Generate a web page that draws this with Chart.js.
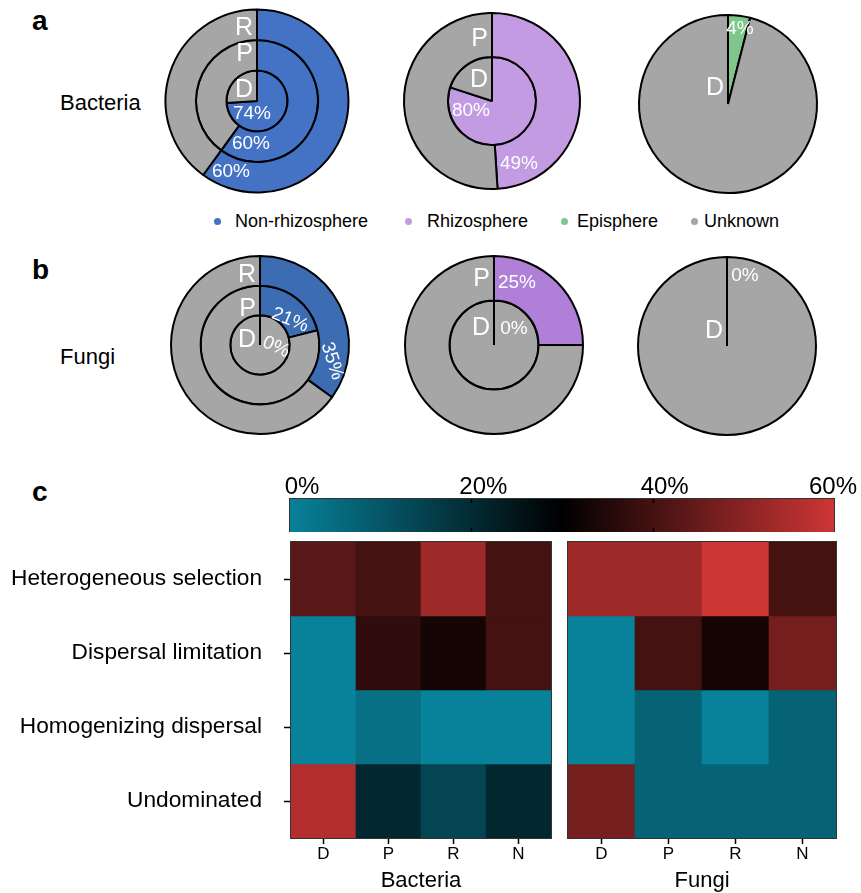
<!DOCTYPE html>
<html>
<head>
<meta charset="utf-8">
<script src="https://cdn.jsdelivr.net/npm/chart.js@4.4.1/dist/chart.umd.min.js"></script>
<style>
body { margin: 0; background: #fff; font-family: "Liberation Sans", Arial, Helvetica, sans-serif; }
#page { position: relative; width: 861px; height: 893px; overflow: hidden; }
canvas, .t, .dot { position: absolute; }
.t { white-space: nowrap; color: #000; line-height: 1; }
.tag { font-weight: bold; font-size: 28px; }
.row { font-size: 22px; }
.leg { font-size: 18px; }
.dot { width: 7px; height: 7px; border-radius: 50%; }
</style>
</head>
<body>
<div id="page">
  <div class="t tag" style="left:32px;top:7px">a</div>
  <div class="t tag" style="left:32px;top:256px">b</div>
  <div class="t tag" style="left:32px;top:478px">c</div>
  <div class="t row" style="left:60px;top:92px">Bacteria</div>
  <div class="t row" style="left:60px;top:346px">Fungi</div>
  <div id="legend"></div>

  <canvas id="pie1" width="200" height="200"></canvas>
  <canvas id="pie2" width="200" height="200"></canvas>
  <canvas id="pie3" width="200" height="200"></canvas>
  <canvas id="pie4" width="200" height="200"></canvas>
  <canvas id="pie5" width="200" height="200"></canvas>
  <canvas id="pie6" width="200" height="200"></canvas>

  <canvas id="cbar" width="591" height="62" style="left:270px;top:470px"></canvas>
  <canvas id="heatB" width="560" height="363" style="left:0px;top:530px"></canvas>
  <canvas id="heatF" width="301" height="363" style="left:560px;top:530px"></canvas>
</div>
<script>
// ---- data ----
const ringNames = ['D', 'P', 'R'];
const sources = ['Non-rhizosphere', 'Rhizosphere', 'Episphere', 'Unknown'];

// share (%) of each compartment's community traced to the source, rest is Unknown
const bacNonRhizo = [74, 60, 60];   // D, P, R
const bacRhizo = [80, 49];          // D, P
const bacEpi = [4];                 // D
const funNonRhizo = [0, 21, 35];
const funRhizo = [0, 25];
const funEpi = [0];

const heatRows = ['Heterogeneous selection', 'Dispersal limitation', 'Homogenizing dispersal', 'Undominated'];
const heatCols = ['D', 'P', 'R', 'N'];
const bacHeat = [
  [43, 40, 53, 40],
  [0, 37, 33, 40],
  [0, 4, 0, 0],
  [56, 21, 14, 21]
];
const funHeat = [
  [53, 53, 60, 40],
  [0, 40, 33, 47],
  [0, 7, 0, 7],
  [47, 7, 7, 7]
];
const barTicks = [0, 20, 40, 60];

// ---- styles ----
const FONT = '"Liberation Sans", Arial, Helvetica, sans-serif';
const GREY = '#a6a6a6';
const legendColors = ['#4472c4', '#c39be3', '#80c68c', GREY];
const cmapStops = [[0, [8, 129, 154]], [30, [0, 0, 0]], [60, [206, 53, 53]]];

Chart.defaults.font.family = FONT;
Chart.defaults.color = '#000';
Chart.defaults.animation = false;

function heatColor(v) {
  for (let i = 1; i < cmapStops.length; i++) {
    const [v0, c0] = cmapStops[i - 1], [v1, c1] = cmapStops[i];
    if (v <= v1 || i === cmapStops.length - 1) {
      const t = Math.max(0, Math.min(1, (v - v0) / (v1 - v0)));
      const c = c0.map((x, k) => Math.round(x + (c1[k] - x) * t));
      return 'rgb(' + c.join(',') + ')';
    }
  }
}

// legend (html)
const legendPos = [[217, 235], [408, 427], [564, 577], [694, 704]];
const legend = document.getElementById('legend');
sources.forEach((s, i) => {
  const d = document.createElement('div');
  d.className = 'dot';
  d.style.background = legendColors[i];
  d.style.left = (legendPos[i][0] - 3.5) + 'px';
  d.style.top = '217.5px';
  legend.appendChild(d);
  const t = document.createElement('div');
  t.className = 't leg';
  t.textContent = s;
  t.style.left = legendPos[i][1] + 'px';
  t.style.top = '212px';
  legend.appendChild(t);
});

// ---- pies ----
function makePie(id, cx, cy, radius, vals, color, spots) {
  const cv = document.getElementById(id);
  cv.style.left = (cx - 100) + 'px';
  cv.style.top = (cy - 100) + 'px';

  const datasets = vals.map((v, i) => ({
    label: ringNames[i],
    data: [v, 100 - v],
    backgroundColor: [color, GREY],
    borderColor: '#000',
    borderWidth: 2
  })).reverse();   // first dataset is the outer ring

  const items = [];
  vals.forEach((v, i) => {
    const s = spots[i];
    items.push({ text: ringNames[i], dx: -4, dy: s.ly, rot: 0, align: 'right', size: 25 });
    items.push({ text: v + '%', dx: s.px, dy: s.py, rot: s.rot || 0, align: 'center', size: 19 });
  });

  const pieText = {
    id: 'pieText',
    afterDatasetsDraw(chart) {
      const ctx = chart.ctx;
      const c = chart.getDatasetMeta(0).data[0];
      ctx.save();
      ctx.fillStyle = '#fff';
      ctx.textBaseline = 'middle';
      items.forEach(it => {
        ctx.save();
        ctx.translate(c.x + it.dx, c.y + it.dy);
        ctx.rotate(it.rot * Math.PI / 180);
        ctx.textAlign = it.align;
        ctx.font = it.size + 'px ' + FONT;
        ctx.fillText(it.text, 0, 0);
        ctx.restore();
      });
      ctx.restore();
    }
  };

  new Chart(cv, {
    type: 'doughnut',
    data: { labels: [color, 'Unknown'], datasets },
    options: {
      responsive: false,
      cutout: 0,
      radius: radius,
      layout: { padding: 0 },
      plugins: { legend: { display: false }, tooltip: { enabled: false } }
    },
    plugins: [pieText]
  });
}

makePie('pie1', 257, 101, 91.5, bacNonRhizo, '#4472c4', [
  { ly: -11, px: -5, py: 13 }, { ly: -47, px: -6, py: 43 }, { ly: -73, px: -26, py: 71 }
]);
makePie('pie2', 492, 101, 88, bacRhizo, '#c39be3', [
  { ly: -21, px: -21, py: 10 }, { ly: -62, px: 27, py: 63 }
]);
makePie('pie3', 728, 104, 89, bacEpi, '#80c68c', [
  { ly: -16, px: 12, py: -75 }
]);
makePie('pie4', 260, 345, 89, funNonRhizo, '#3c6cb2', [
  { ly: -5, px: 16, py: 2, rot: 25 }, { ly: -36, px: 30, py: -25, rot: 22 }, { ly: -70, px: 72, py: 16, rot: 72 }
]);
makePie('pie5', 494, 345, 89, funRhizo, '#b07fd8', [
  { ly: -17, px: 20, py: -16 }, { ly: -66, px: 23, py: -62 }
]);
makePie('pie6', 727, 346, 89, funEpi, '#80c68c', [
  { ly: -15, px: 18, py: -70 }
]);

// ---- heatmaps ----
const frame = {
  id: 'frame',
  afterDatasetsDraw(chart) {
    const { ctx, chartArea: a } = chart;
    ctx.save();
    ctx.strokeStyle = '#333';
    ctx.lineWidth = 1;
    ctx.strokeRect(a.left - 0.5, a.top - 0.5, a.right - a.left + 1, a.bottom - a.top + 1);
    ctx.restore();
  }
};

function makeHeat(id, vals, showY, padLeft, padRight, title) {
  const datasets = heatRows.map((row, i) => ({
    label: row,
    data: heatCols.map(() => [i, i + 1]),
    backgroundColor: vals[i].map(heatColor),
    borderWidth: 0,
    grouped: false,
    barPercentage: 1,
    categoryPercentage: 1
  }));
  new Chart(document.getElementById(id), {
    type: 'bar',
    data: { labels: heatCols, datasets },
    options: {
      responsive: false,
      layout: { padding: { top: 12, left: padLeft, right: padRight, bottom: 0 } },
      plugins: { legend: { display: false }, tooltip: { enabled: false } },
      scales: {
        x: {
          grid: { display: true, offset: false, drawOnChartArea: false, tickLength: 6, color: '#000', tickWidth: 1.5 },
          border: { display: false },
          ticks: { font: { size: 17, lineHeight: 1 }, padding: 2, color: '#000' },
          title: { display: true, text: title, color: '#000', font: { size: 22, lineHeight: 1 }, padding: { top: 0, bottom: 1 } },
          afterFit: s => { s.height = 55; s.paddingLeft = 0; s.paddingRight = 0; }
        },
        y: {
          display: showY,
          type: 'linear', min: 0, max: 4, reverse: true,
          afterBuildTicks: s => { s.ticks = heatRows.map((r, i) => ({ value: i + 0.5 })); },
          ticks: { callback: (v, i) => heatRows[i], font: { size: 22.7 }, padding: 22, color: '#000' },
          grid: { display: true, drawOnChartArea: false, tickLength: 7, color: '#000', tickWidth: 1.5 },
          border: { display: false },
          afterFit: s => { if (showY) s.width = 291; s.paddingTop = 0; s.paddingBottom = 0; }
        }
      }
    },
    plugins: [frame]
  });
}

makeHeat('heatB', bacHeat, true, 0, 9, 'Bacteria');
makeHeat('heatF', funHeat, false, 8, 25, 'Fungi');

// ---- colour bar ----
const cbarTicks = {
  id: 'cbarTicks',
  afterDatasetsDraw(chart) {
    const { ctx, chartArea: a } = chart;
    const xs = chart.scales.x;
    ctx.save();
    ctx.strokeStyle = '#000';
    ctx.lineWidth = 1.5;
    barTicks.slice(1, -1).forEach(v => {
      const x = Math.round(xs.getPixelForValue(v)) + 0.5;
      ctx.beginPath();
      ctx.moveTo(x, a.top); ctx.lineTo(x, a.top + 4);
      ctx.moveTo(x, a.bottom); ctx.lineTo(x, a.bottom - 4);
      ctx.stroke();
    });
    // tick labels sit a little right of their ticks, last one kept inside the figure
    ctx.fillStyle = '#000';
    ctx.font = '24px ' + FONT;
    ctx.textAlign = 'center';
    ctx.textBaseline = 'middle';
    barTicks.forEach(v => {
      const txt = v + '%';
      const w = ctx.measureText(txt).width;
      const x = Math.min(xs.getPixelForValue(v) + 12, chart.width - w / 2 - 4);
      ctx.fillText(txt, x, a.top - 12);
    });
    ctx.restore();
  }
};

new Chart(document.getElementById('cbar'), {
  type: 'bar',
  data: {
    labels: [''],
    datasets: [{
      data: [[barTicks[0], barTicks[barTicks.length - 1]]],
      backgroundColor: c => {
        const a = c.chart.chartArea;
        if (!a) return '#000';
        const xs = c.chart.scales.x;
        const g = c.chart.ctx.createLinearGradient(a.left, 0, a.right, 0);
        const span = xs.max - xs.min;
        cmapStops.forEach(([v, col]) => g.addColorStop((v - xs.min) / span, 'rgb(' + col.join(',') + ')'));
        return g;
      },
      borderWidth: 0,
      barPercentage: 1,
      categoryPercentage: 1
    }]
  },
  options: {
    indexAxis: 'y',
    responsive: false,
    layout: { padding: { left: 20, right: 27, top: 29, bottom: 0 } },
    plugins: { legend: { display: false }, tooltip: { enabled: false } },
    scales: {
      x: {
        type: 'linear', display: false, min: 0, max: 60,
        afterBuildTicks: s => { s.ticks = barTicks.map(v => ({ value: v })); }
      },
      y: { display: false }
    }
  },
  plugins: [frame, cbarTicks]
});
</script>
</body>
</html>
